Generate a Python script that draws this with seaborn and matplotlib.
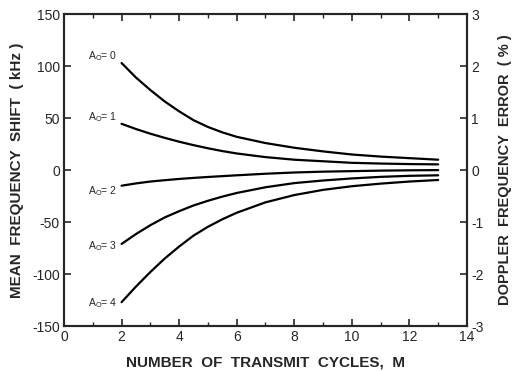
import numpy as np
import pandas as pd
import matplotlib
matplotlib.use("Agg")
import matplotlib.pyplot as plt
import seaborn as sns

# ---- data ----
cycles = [2, 2.5, 3, 3.5, 4, 4.5, 5, 5.5, 6, 7, 8, 9, 10, 11, 12, 13]
shift_a0 = [103, 89, 77, 66, 56.5, 48, 41.5, 36.3, 32, 26, 21.5, 18, 15, 13, 11.5, 10]
shift_a1 = [44.5, 39.5, 35, 31, 27.3, 24, 21, 18.3, 16, 12.5, 10, 8.5, 7, 6.3, 5.8, 5.5]
shift_a2 = [-15, -12.8, -11, -9.7, -8.5, -7.5, -6.6, -5.8, -5, -3.5, -2.3, -1.5, -1, -0.5, -0.2, 0]
shift_a3 = [-71, -61.5, -53, -45.5, -39.5, -34, -29.5, -25.5, -22, -16.5, -12.5, -10, -8, -6.5, -5.5, -5]
shift_a4 = [-127, -112, -98, -85, -73.5, -63, -54.5, -47.3, -41, -31, -24, -19, -15.5, -13, -11, -9.5]
series_names = ["0", "1", "2", "3", "4"]
left_ticks = [-150, -100, -50, 0, 50, 100, 150]
right_ticks = [-3, -2, -1, 0, 1, 2, 3]
x_ticks = [0, 2, 4, 6, 8, 10, 12, 14]

all_series = [shift_a0, shift_a1, shift_a2, shift_a3, shift_a4]
df = pd.DataFrame({
    "M": np.tile(cycles, len(all_series)),
    "shift": np.concatenate(all_series),
    "A0": np.repeat(series_names, len(cycles)),
})

sns.set_style("ticks")
plt.rcParams["font.family"] = ["Liberation Sans", "DejaVu Sans"]
plt.rcParams["axes.unicode_minus"] = False
plt.rcParams["mathtext.fontset"] = "custom"
plt.rcParams["mathtext.rm"] = "Liberation Sans"
plt.rcParams["mathtext.it"] = "Liberation Sans"

fig = plt.figure(figsize=(5.14, 3.71), dpi=100)
ax = fig.add_axes([0.1245, 0.121, 0.784, 0.841])

sns.lineplot(data=df, x="M", y="shift", hue="A0", palette=["black"] * 5,
             legend=False, ax=ax, linewidth=1.6)

ax.set_xlim(0, 14)
ax.set_ylim(-150, 150)
ax.set_xticks(x_ticks)
ax.set_xticks(range(0, 15), minor=True)
ax.set_yticks(left_ticks)
ax.tick_params(axis="both", which="major", direction="in", length=5, width=1.2,
               labelsize=10, top=True, pad=3)
ax.tick_params(axis="x", which="minor", direction="in", length=3, width=1.0, top=True)
ax.set_xlabel("NUMBER  OF  TRANSMIT  CYCLES,  M", fontsize=11, fontweight="bold", labelpad=8)
ax.set_ylabel("MEAN  FREQUENCY  SHIFT  ( kHz )", fontsize=11, fontweight="bold", labelpad=6)
for s in ax.spines.values():
    s.set_linewidth(1.5)

# curve labels
label_dy = [7, 6, -5, -2, -1]
for name, vals, dy in zip(series_names, all_series, label_dy):
    ax.text(1.85, vals[0] + dy, r"A$_\mathrm{O}$= " + name, ha="right", va="center",
            fontsize=7.5)

ax2 = ax.twinx()
ax2.set_ylim(-3, 3)
ax2.set_yticks(right_ticks)
ax2.tick_params(axis="y", direction="in", length=5, width=1.2, labelsize=10, pad=3)
ax2.set_ylabel("DOPPLER  FREQUENCY  ERROR  ( % )", fontsize=10.5, fontweight="bold",
               labelpad=10)
for s in ax2.spines.values():
    s.set_linewidth(1.5)

fig.savefig("out.png", dpi=100)
